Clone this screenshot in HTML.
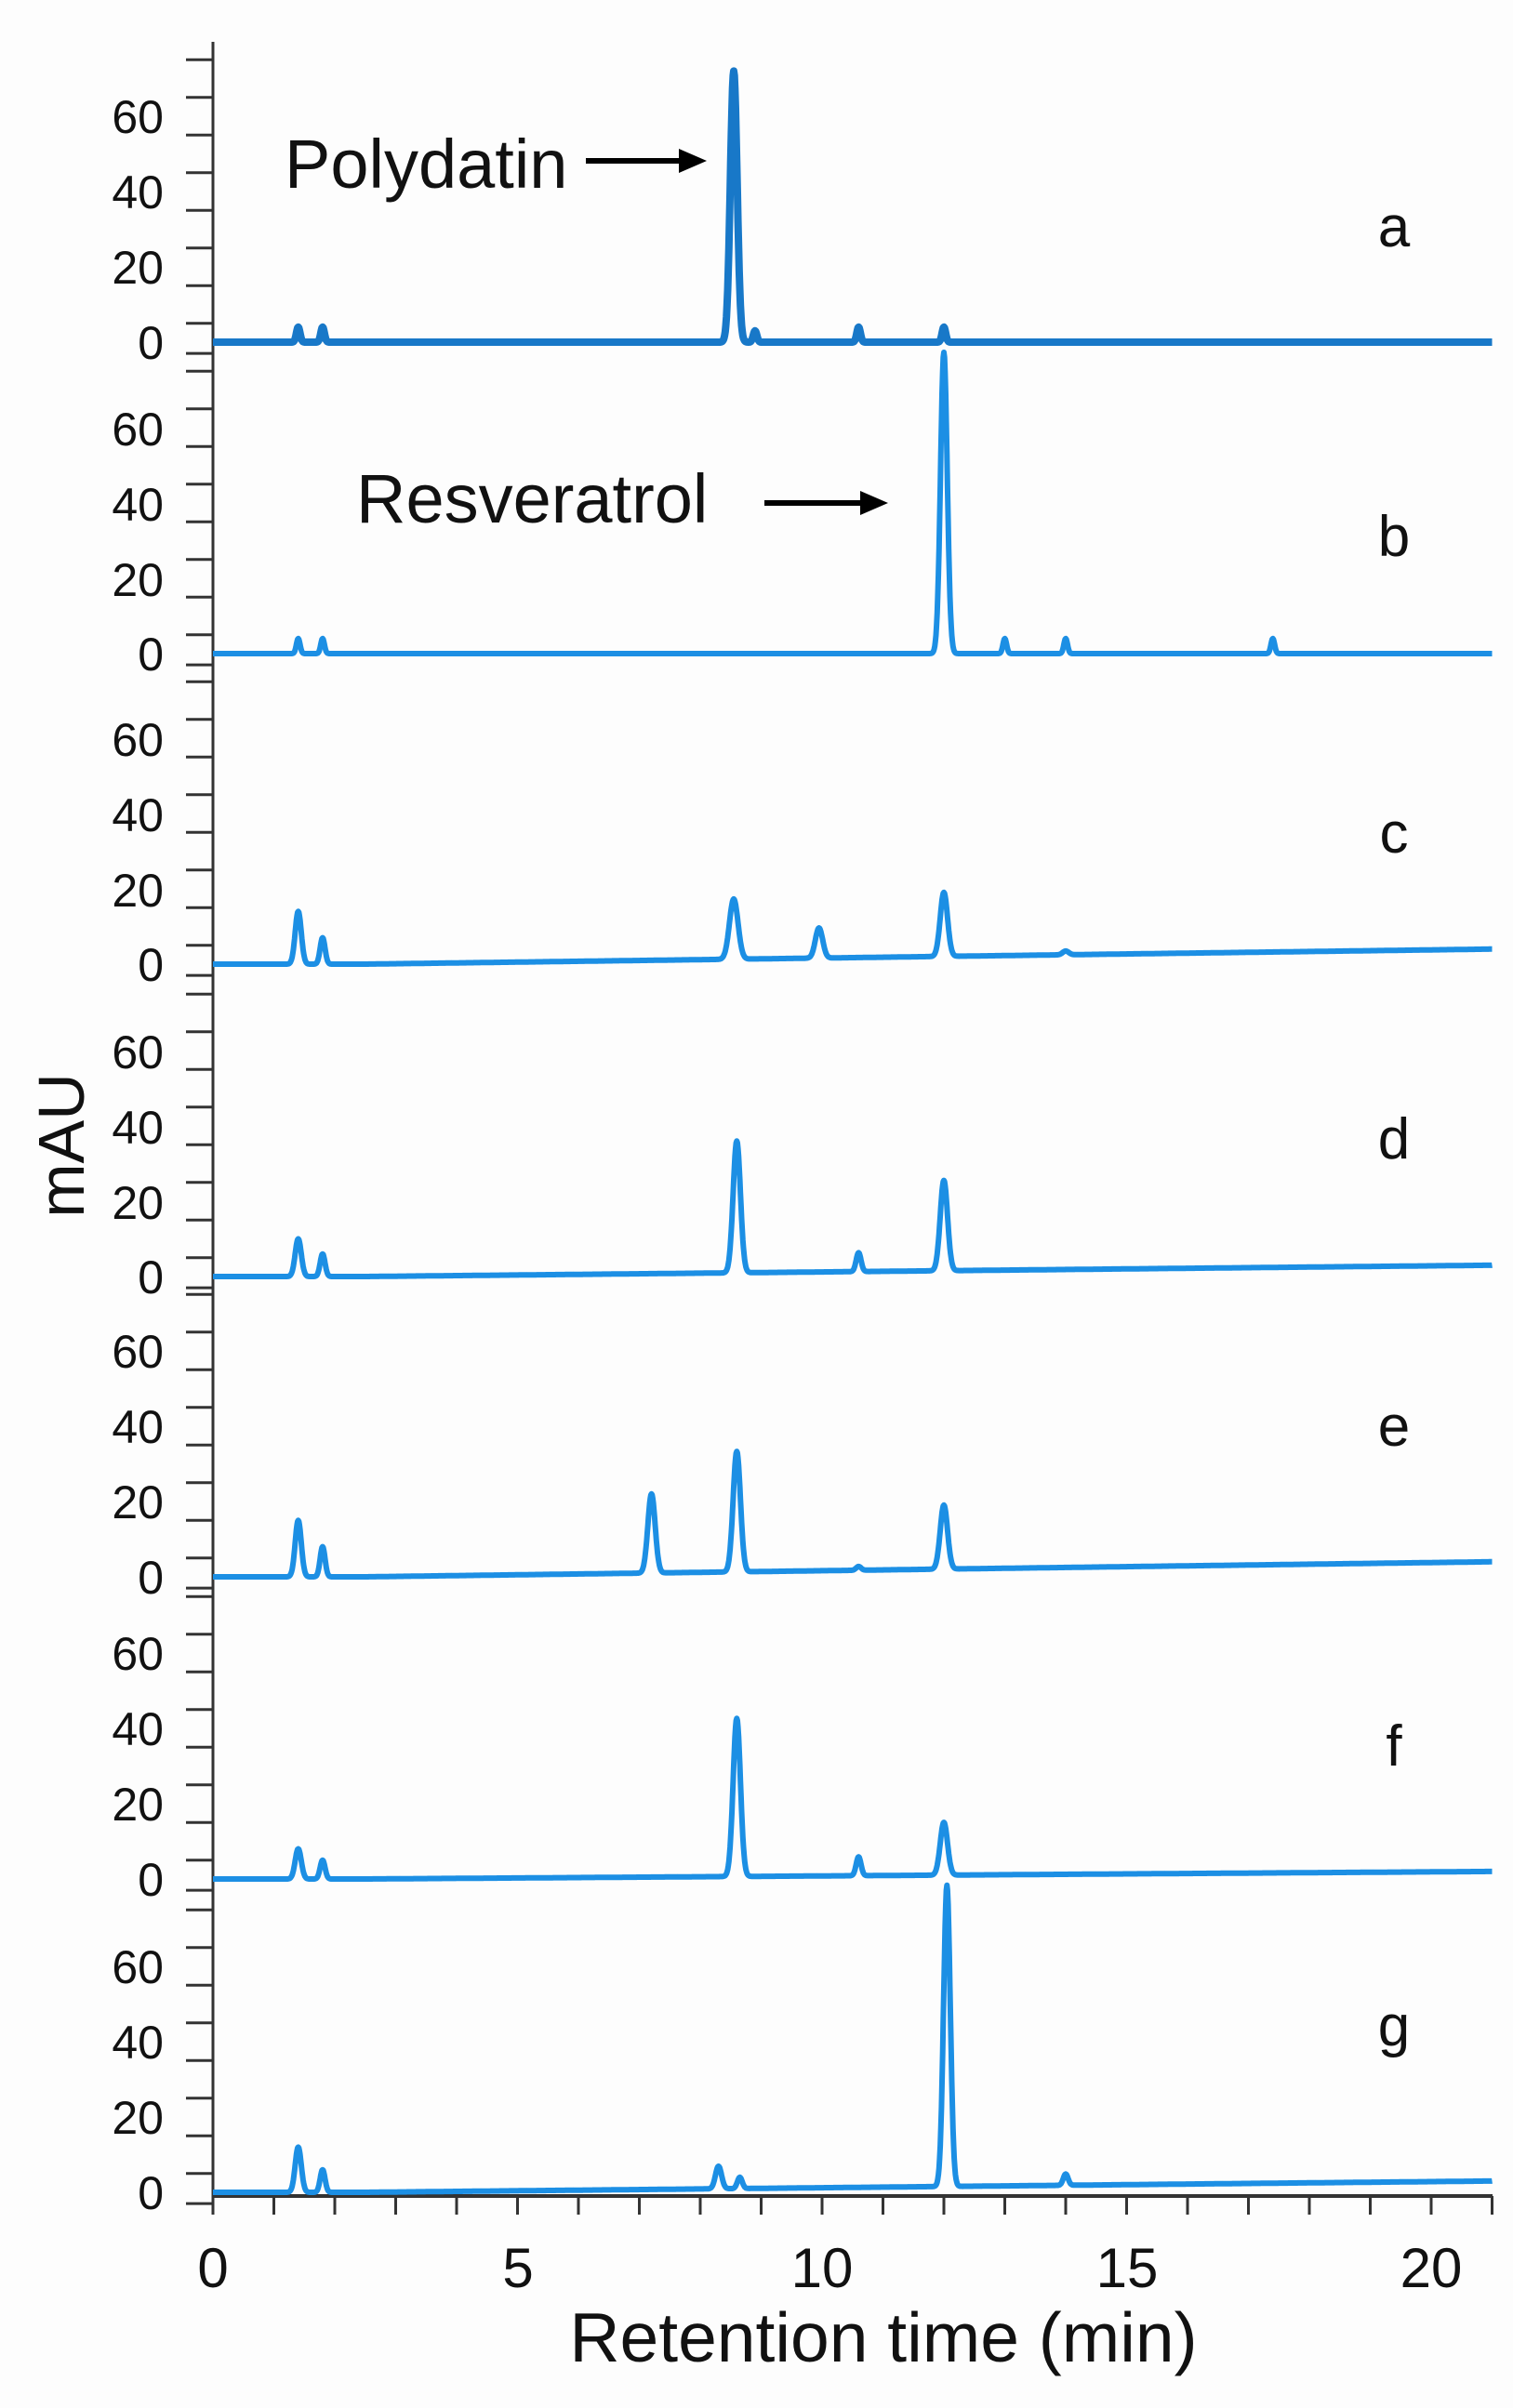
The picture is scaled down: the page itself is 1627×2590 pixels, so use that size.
<!DOCTYPE html>
<html><head><meta charset="utf-8"><style>
html,body{margin:0;padding:0;background:#fff;}
svg{display:block;}
text{font-family:"Liberation Sans",sans-serif;fill:#111;}
</style></head><body>
<svg id="s" width="1627" height="2590" viewBox="0 0 1627 2590" xmlns="http://www.w3.org/2000/svg">
<rect width="1627" height="2590" fill="#fdfdfd"/>
<g id="ax" stroke="#333" stroke-width="3"></g>
<g id="tr" fill="none" stroke="#1c8fe4" stroke-width="6" stroke-linejoin="round"></g>
<g font-size="50" text-anchor="end">
<text x="176" y="143">60</text><text x="176" y="224">40</text><text x="176" y="305">20</text><text x="176" y="386">0</text>
<text x="176" y="479">60</text><text x="176" y="560">40</text><text x="176" y="641">20</text><text x="176" y="721">0</text>
<text x="176" y="813">60</text><text x="176" y="894">40</text><text x="176" y="975">20</text><text x="176" y="1055">0</text>
<text x="176" y="1149">60</text><text x="176" y="1230">40</text><text x="176" y="1311">20</text><text x="176" y="1391">0</text>
<text x="176" y="1471">60</text><text x="176" y="1552">40</text><text x="176" y="1633">20</text><text x="176" y="1714">0</text>
<text x="176" y="1796">60</text><text x="176" y="1877">40</text><text x="176" y="1958">20</text><text x="176" y="2039">0</text>
<text x="176" y="2133">60</text><text x="176" y="2214">40</text><text x="176" y="2295">20</text><text x="176" y="2376">0</text>
</g>
<text x="0" y="0" font-size="70" text-anchor="middle" transform="translate(90,1232) rotate(-90)">mAU</text>
<g font-size="60" text-anchor="middle">
<text x="229" y="2460">0</text><text x="557" y="2460">5</text><text x="884" y="2460">10</text><text x="1212" y="2460">15</text><text x="1539" y="2460">20</text>
</g>
<text x="950" y="2540" font-size="75" text-anchor="middle">Retention time (min)</text>
<text x="306" y="202" font-size="74">Polydatin</text>
<text x="383" y="562" font-size="74">Resveratrol</text>
<g font-size="62" text-anchor="middle">
<text x="1499" y="265">a</text><text x="1499" y="598">b</text><text x="1499" y="917">c</text><text x="1499" y="1246">d</text><text x="1499" y="1555">e</text><text x="1499" y="1899">f</text><text x="1499" y="2200">g</text>
</g>
<g stroke="#000" stroke-width="6"><line x1="630" y1="173" x2="735" y2="173"/><line x1="822" y1="541" x2="930" y2="541"/></g>
<g fill="#000"><polygon points="760,173 730,160 730,186"/><polygon points="955,541 925,528 925,554"/></g>
</svg>
<script>
const ax=document.getElementById('ax'),tr=document.getElementById('tr');
const X=t=>229+65.5*t, K=4.05;
const zeros=[368,703,1037,1373,1696,2021,2358];
let a='';
a+=`<line x1="229" y1="45" x2="229" y2="2362"/>`;
for(const z of zeros){for(let k=-0.5;k<=8;k+=1){const y=z-k*40.5*(k<0?0.6:1);if(y<40)continue;a+=`<line x1="200" y1="${y}" x2="229" y2="${y}"/>`;}}
a+=`<line x1="229" y1="2362" x2="1605" y2="2362" stroke-width="4"/>`;
for(let t=0;t<=21;t++)a+=`<line x1="${X(t)}" y1="2362" x2="${X(t)}" y2="2382"/>`;
ax.innerHTML=a;
const P=[
 {b:0,pk:[[1.4,4,.03],[1.8,4,.03],[8.55,72,.055],[8.9,3,.03],[10.6,4,.03],[12.0,4,.03]],dark:1},
 {b:0,pk:[[1.4,4,.03],[1.8,4,.03],[12.0,80,.055],[13.0,4,.03],[14.0,4,.03],[17.4,4,.03]]},
 {b:4,pk:[[1.4,14,.05],[1.8,7,.04],[8.55,16,.07],[9.95,8,.06],[12.0,17,.06],[14,1,.05]]},
 {b:3,pk:[[1.4,10,.05],[1.8,6,.04],[8.6,35,.06],[10.6,5,.04],[12.0,24,.06]]},
 {b:4,pk:[[1.4,15,.05],[1.8,8,.04],[7.2,21,.06],[8.6,32,.06],[10.6,1,.04],[12.0,17,.06]]},
 {b:2,pk:[[1.4,8,.05],[1.8,5,.04],[8.6,42,.06],[10.6,5,.04],[12.0,14,.06]]},
 {b:3,pk:[[1.4,12,.05],[1.8,6,.04],[8.3,6,.05],[8.65,3,.04],[12.05,80,.055],[14.0,3,.04]]}
];
let h='';
P.forEach((p,i)=>{const z=zeros[i];let d='';
 for(let t=0;t<=21.01;t+=0.01){let v=p.b*Math.max(0,Math.min(1,(t-2.5)/18.5));
  for(const [c,hh,s] of p.pk)v+=hh*Math.exp(-((t-c)**2)/(2*s*s));
  d+=(d?'L':'M')+X(t).toFixed(1)+','+(z-v*K).toFixed(1);}
 h+=`<path d="${d}" ${p.dark?'stroke="#1878c8" stroke-width="8"':''}/>`;});
tr.innerHTML=h;
</script>
</body></html>
